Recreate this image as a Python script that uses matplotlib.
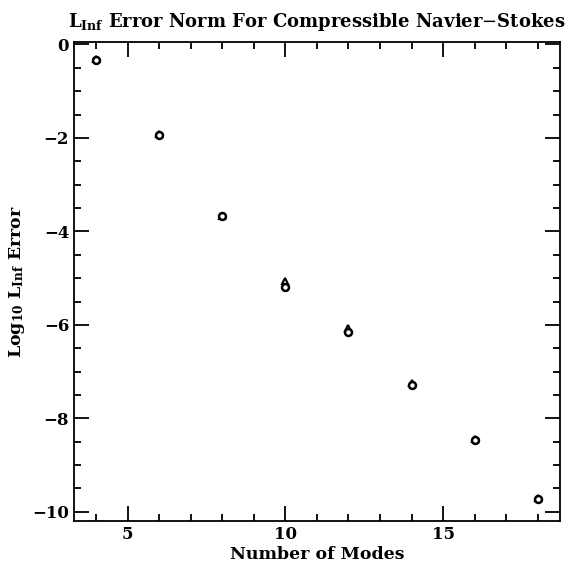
import matplotlib
matplotlib.use("Agg")
import matplotlib.pyplot as plt
from matplotlib.ticker import MultipleLocator

# data
modes = [4, 6, 8, 10, 12, 14, 16, 18]
err_circle = [-0.34, -1.93, -3.68, -5.18, -6.16, -7.28, -8.46, -9.72]
err_triangle = [-0.32, -1.91, -3.66, -5.06, -6.06, -7.24, -8.45, -9.71]

plt.rcParams['font.family'] = 'DejaVu Serif'
plt.rcParams['mathtext.fontset'] = 'dejavuserif'

fig = plt.figure(figsize=(5.70, 5.69), dpi=100)
ax = fig.add_axes([0.130, 0.084, 0.852, 0.842])

ax.plot(modes, err_triangle, linestyle='none', marker='^', markersize=5,
        markerfacecolor='white', markeredgecolor='black', markeredgewidth=1.5)
ax.plot(modes, err_circle, linestyle='none', marker='o', markersize=5,
        markerfacecolor='white', markeredgecolor='black', markeredgewidth=1.8)

ax.set_xlim(3.3, 18.7)
ax.set_ylim(-10.2, 0.05)

ax.xaxis.set_major_locator(MultipleLocator(5))
ax.xaxis.set_minor_locator(MultipleLocator(1))
ax.yaxis.set_major_locator(MultipleLocator(2))
ax.yaxis.set_minor_locator(MultipleLocator(0.5))
ax.tick_params(which='both', direction='in', top=True, right=True, width=1.3,
               labelsize=12)
ax.tick_params(which='major', length=11)
ax.tick_params(which='minor', length=5)
for lab in ax.get_xticklabels() + ax.get_yticklabels():
    lab.set_fontweight('bold')
for s in ax.spines.values():
    s.set_linewidth(1.3)

ax.set_xlabel('Number of Modes', fontsize=12.5, fontweight='bold', labelpad=2)
ax.set_ylabel(r'Log$_{\mathbf{10}}$ L$_{\mathbf{Inf}}$ Error', fontsize=12.5,
              fontweight='bold', labelpad=4)
ax.set_title(r'L$_{\mathbf{Inf}}$ Error Norm For Compressible Navier$-$Stokes',
             fontsize=13, fontweight='bold', pad=11)

fig.savefig('out.png', dpi=100)
